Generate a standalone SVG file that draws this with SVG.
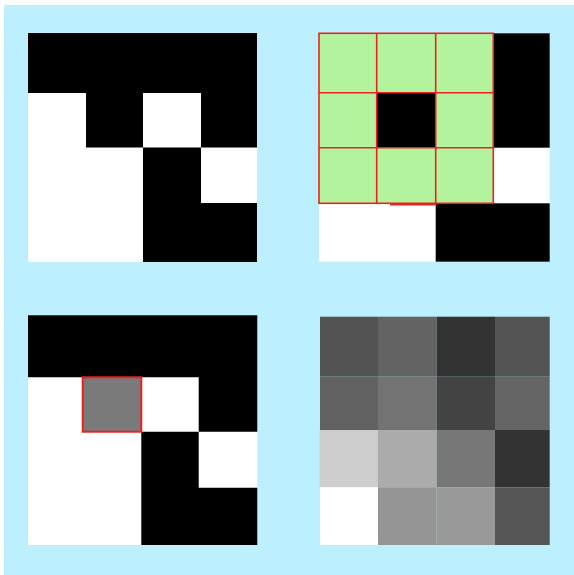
<svg xmlns="http://www.w3.org/2000/svg" width="574" height="575" viewBox="0 0 574 575">
<style>
.w{fill:#ffffff}
.k{fill:#000000}
.g{fill:#b3f39d}
.r{stroke:#e8231e;stroke-width:1.6;fill:none}
</style>
<rect x="0" y="0" width="574" height="575" fill="#ffffff"/>
<rect x="4" y="5" width="570" height="570" fill="#bdf0ff"/>
<g id="panel-original">
<rect class="w" x="28" y="33" width="229" height="229"/>
<path class="k" d="M28 33H257V147.5H201V93H143V147.5H86V93H28Z"/>
<path class="k" d="M143 147.5H201V203H257V262H143Z"/>
</g>
<g id="panel-neighbourhood">
<rect class="w" x="319" y="33.3" width="230.7" height="228.4"/>
<rect class="g" x="319" y="33.3" width="174.3" height="170"/>
<rect class="k" x="376.7" y="92.7" width="59" height="55"/>
<rect class="k" x="493.3" y="33.3" width="56.4" height="114.4"/>
<rect class="k" x="435.7" y="203.3" width="114" height="58.4"/>
<g class="r">
<rect x="319" y="33.3" width="174.3" height="170"/>
<line x1="376.7" y1="33.3" x2="376.7" y2="203.3"/>
<line x1="435.7" y1="33.3" x2="435.7" y2="203.3"/>
<line x1="319" y1="92.7" x2="493.3" y2="92.7"/>
<line x1="319" y1="147.7" x2="493.3" y2="147.7"/>
<line x1="390" y1="204.5" x2="435.7" y2="204.5" stroke-width="1.8"/>
</g>
</g>
<g id="panel-result">
<rect class="w" x="28" y="315.3" width="229.3" height="229.7"/>
<path class="k" d="M28 315.3H257.3V431.7H198.7V377.3H28Z"/>
<path class="k" d="M141.3 431.7H198.7V487.7H257.3V545H141.3Z"/>
<rect x="82.7" y="377.3" width="58.6" height="54.4" fill="#7a7a7a" stroke="#e8231e" stroke-width="2"/>
</g>
<g id="panel-gray">
<rect x="320" y="316.7" width="58" height="60" fill="#535353"/>
<rect x="378" y="316.7" width="58.7" height="60" fill="#636363"/>
<rect x="436.7" y="316.7" width="58.3" height="60" fill="#333333"/>
<rect x="495" y="316.7" width="54.7" height="60" fill="#545454"/>
<rect x="320" y="376.7" width="58" height="53.3" fill="#626262"/>
<rect x="378" y="376.7" width="58.7" height="53.3" fill="#737373"/>
<rect x="436.7" y="376.7" width="58.3" height="53.3" fill="#434343"/>
<rect x="495" y="376.7" width="54.7" height="53.3" fill="#656565"/>
<rect x="319.5" y="430" width="58.5" height="57.3" fill="#cdcdcd"/>
<rect x="378" y="430" width="58.7" height="57.3" fill="#ababab"/>
<rect x="436.7" y="430" width="58.3" height="57.3" fill="#777777"/>
<rect x="495" y="430" width="54.7" height="57.3" fill="#333333"/>
<rect x="320" y="487.3" width="58" height="57.7" fill="#ffffff"/>
<rect x="378" y="487.3" width="58.7" height="57.7" fill="#959595"/>
<rect x="436.7" y="487.3" width="58.3" height="57.7" fill="#999999"/>
<rect x="495" y="487.3" width="54.7" height="57.7" fill="#555555"/>
</g>
</svg>
